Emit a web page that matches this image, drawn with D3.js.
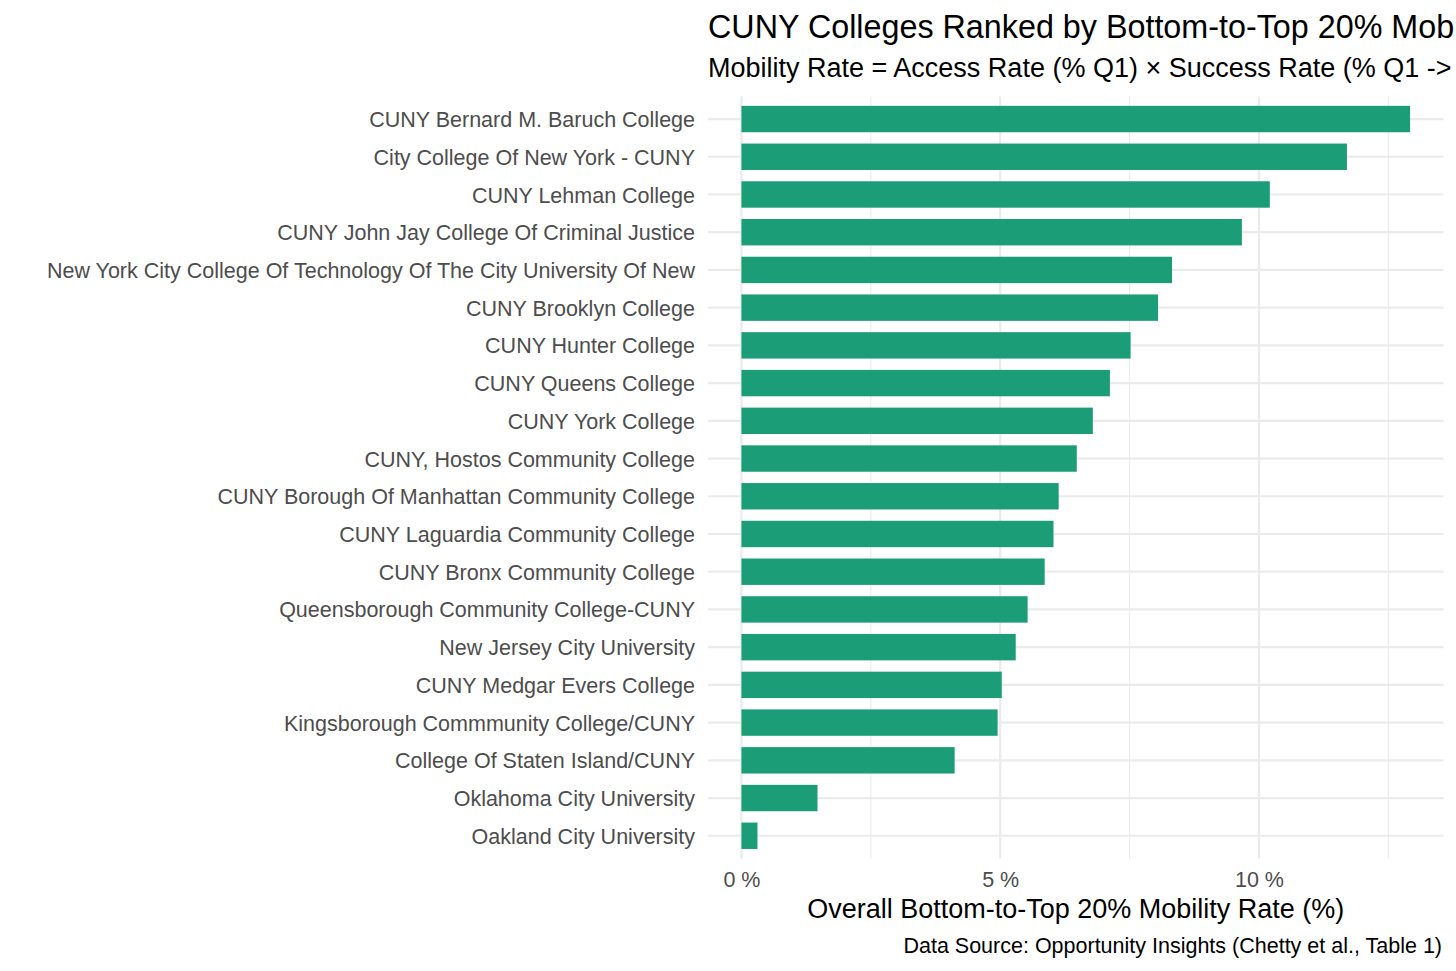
<!DOCTYPE html>
<html>
<head>
<meta charset="utf-8">
<script src="https://cdn.jsdelivr.net/npm/d3@7"></script>
<style>
  body { margin: 0; background: #fff; overflow: hidden; }
  svg { display: block; font-family: "Liberation Sans", Arial, sans-serif; }
</style>
</head>
<body>
<svg id="chart" width="1456" height="971"></svg>
<script>
const colleges = [
  "CUNY Bernard M. Baruch College",
  "City College Of New York - CUNY",
  "CUNY Lehman College",
  "CUNY John Jay College Of Criminal Justice",
  "New York City College Of Technology Of The City University Of New",
  "CUNY Brooklyn College",
  "CUNY Hunter College",
  "CUNY Queens College",
  "CUNY York College",
  "CUNY, Hostos Community College",
  "CUNY Borough Of Manhattan Community College",
  "CUNY Laguardia Community College",
  "CUNY Bronx Community College",
  "Queensborough Community College-CUNY",
  "New Jersey City University",
  "CUNY Medgar Evers College",
  "Kingsborough Commmunity College/CUNY",
  "College Of Staten Island/CUNY",
  "Oklahoma City University",
  "Oakland City University"
];
const mobilityRate = [12.92, 11.70, 10.21, 9.67, 8.32, 8.05, 7.52, 7.12, 6.79, 6.48,
                      6.13, 6.03, 5.86, 5.53, 5.30, 5.03, 4.95, 4.12, 1.47, 0.31];
const xTicks = [0, 5, 10];
const xMinor = [2.5, 7.5, 12.5];

const titleText = "CUNY Colleges Ranked by Bottom-to-Top 20% Mobility";
const subtitleText = "Mobility Rate = Access Rate (% Q1) × Success Rate (% Q1 -> Q5)";
const xTitle = "Overall Bottom-to-Top 20% Mobility Rate (%)";
const caption = "Data Source: Opportunity Insights (Chetty et al., Table 1)";

const data = colleges.map((c, i) => ({ name: c, value: mobilityRate[i] }));

const svg = d3.select("#chart");
const panel = { left: 708, right: 1443.5, top: 96.4, bottom: 858.4 };

const maxV = d3.max(mobilityRate);
const x = d3.scaleLinear()
  .domain([-0.05 * maxV, 1.05 * maxV])
  .range([panel.left, panel.right]);

// ggplot style: outer expansion 0.6 step, bar width 0.7 step
const step = (panel.bottom - panel.top) / (colleges.length + 0.2);
const yc = d3.scalePoint().domain(colleges)
  .range([panel.top + 0.6 * step, panel.bottom - 0.6 * step]);
const barH = 0.7 * step;

const grid = svg.append("g");
grid.selectAll("line.minor").data(xMinor).join("line")
  .attr("x1", d => x(d)).attr("x2", d => x(d))
  .attr("y1", panel.top).attr("y2", panel.bottom)
  .attr("stroke", "#ebebeb").attr("stroke-width", 1.1);
grid.selectAll("line.major").data(xTicks).join("line")
  .attr("x1", d => x(d)).attr("x2", d => x(d))
  .attr("y1", panel.top).attr("y2", panel.bottom)
  .attr("stroke", "#ebebeb").attr("stroke-width", 2.2);
grid.selectAll("line.h").data(colleges).join("line")
  .attr("x1", panel.left).attr("x2", panel.right)
  .attr("y1", d => yc(d)).attr("y2", d => yc(d))
  .attr("stroke", "#ebebeb").attr("stroke-width", 2.2);

svg.append("g").selectAll("rect").data(data).join("rect")
  .attr("x", x(0))
  .attr("y", d => yc(d.name) - barH / 2)
  .attr("width", d => x(d.value) - x(0))
  .attr("height", barH)
  .attr("fill", "#1b9e77");

const yAxis = d3.axisLeft(yc).tickSize(0).tickPadding(13);
const yg = svg.append("g").attr("transform", `translate(${panel.left},0)`).call(yAxis);
yg.select(".domain").remove();
yg.selectAll("text")
  .attr("font-size", 21.5)
  .attr("fill", "#4d4d4d")
  .attr("font-family", "Liberation Sans, Arial, sans-serif")
  .attr("dy", "0.35em");

const xAxis = d3.axisBottom(x).tickValues(xTicks).tickSize(0).tickPadding(13)
  .tickFormat(d => d + " %");
const xg = svg.append("g").attr("transform", `translate(0,${panel.bottom})`).call(xAxis);
xg.select(".domain").remove();
xg.selectAll("text")
  .attr("font-size", 21.5)
  .attr("fill", "#4d4d4d")
  .attr("font-family", "Liberation Sans, Arial, sans-serif");

svg.append("text")
  .attr("x", (panel.left + panel.right) / 2)
  .attr("y", 918)
  .attr("text-anchor", "middle")
  .attr("font-size", 27)
  .attr("fill", "#000")
  .text(xTitle);

svg.append("text")
  .attr("x", 1442)
  .attr("y", 953)
  .attr("text-anchor", "end")
  .attr("font-size", 21.5)
  .attr("fill", "#000")
  .text(caption);

svg.append("text")
  .attr("x", 708)
  .attr("y", 38)
  .attr("font-size", 32.3)
  .attr("fill", "#000")
  .text(titleText);

svg.append("text")
  .attr("x", 708)
  .attr("y", 77)
  .attr("font-size", 27)
  .attr("fill", "#000")
  .text(subtitleText);
</script>
</body>
</html>
